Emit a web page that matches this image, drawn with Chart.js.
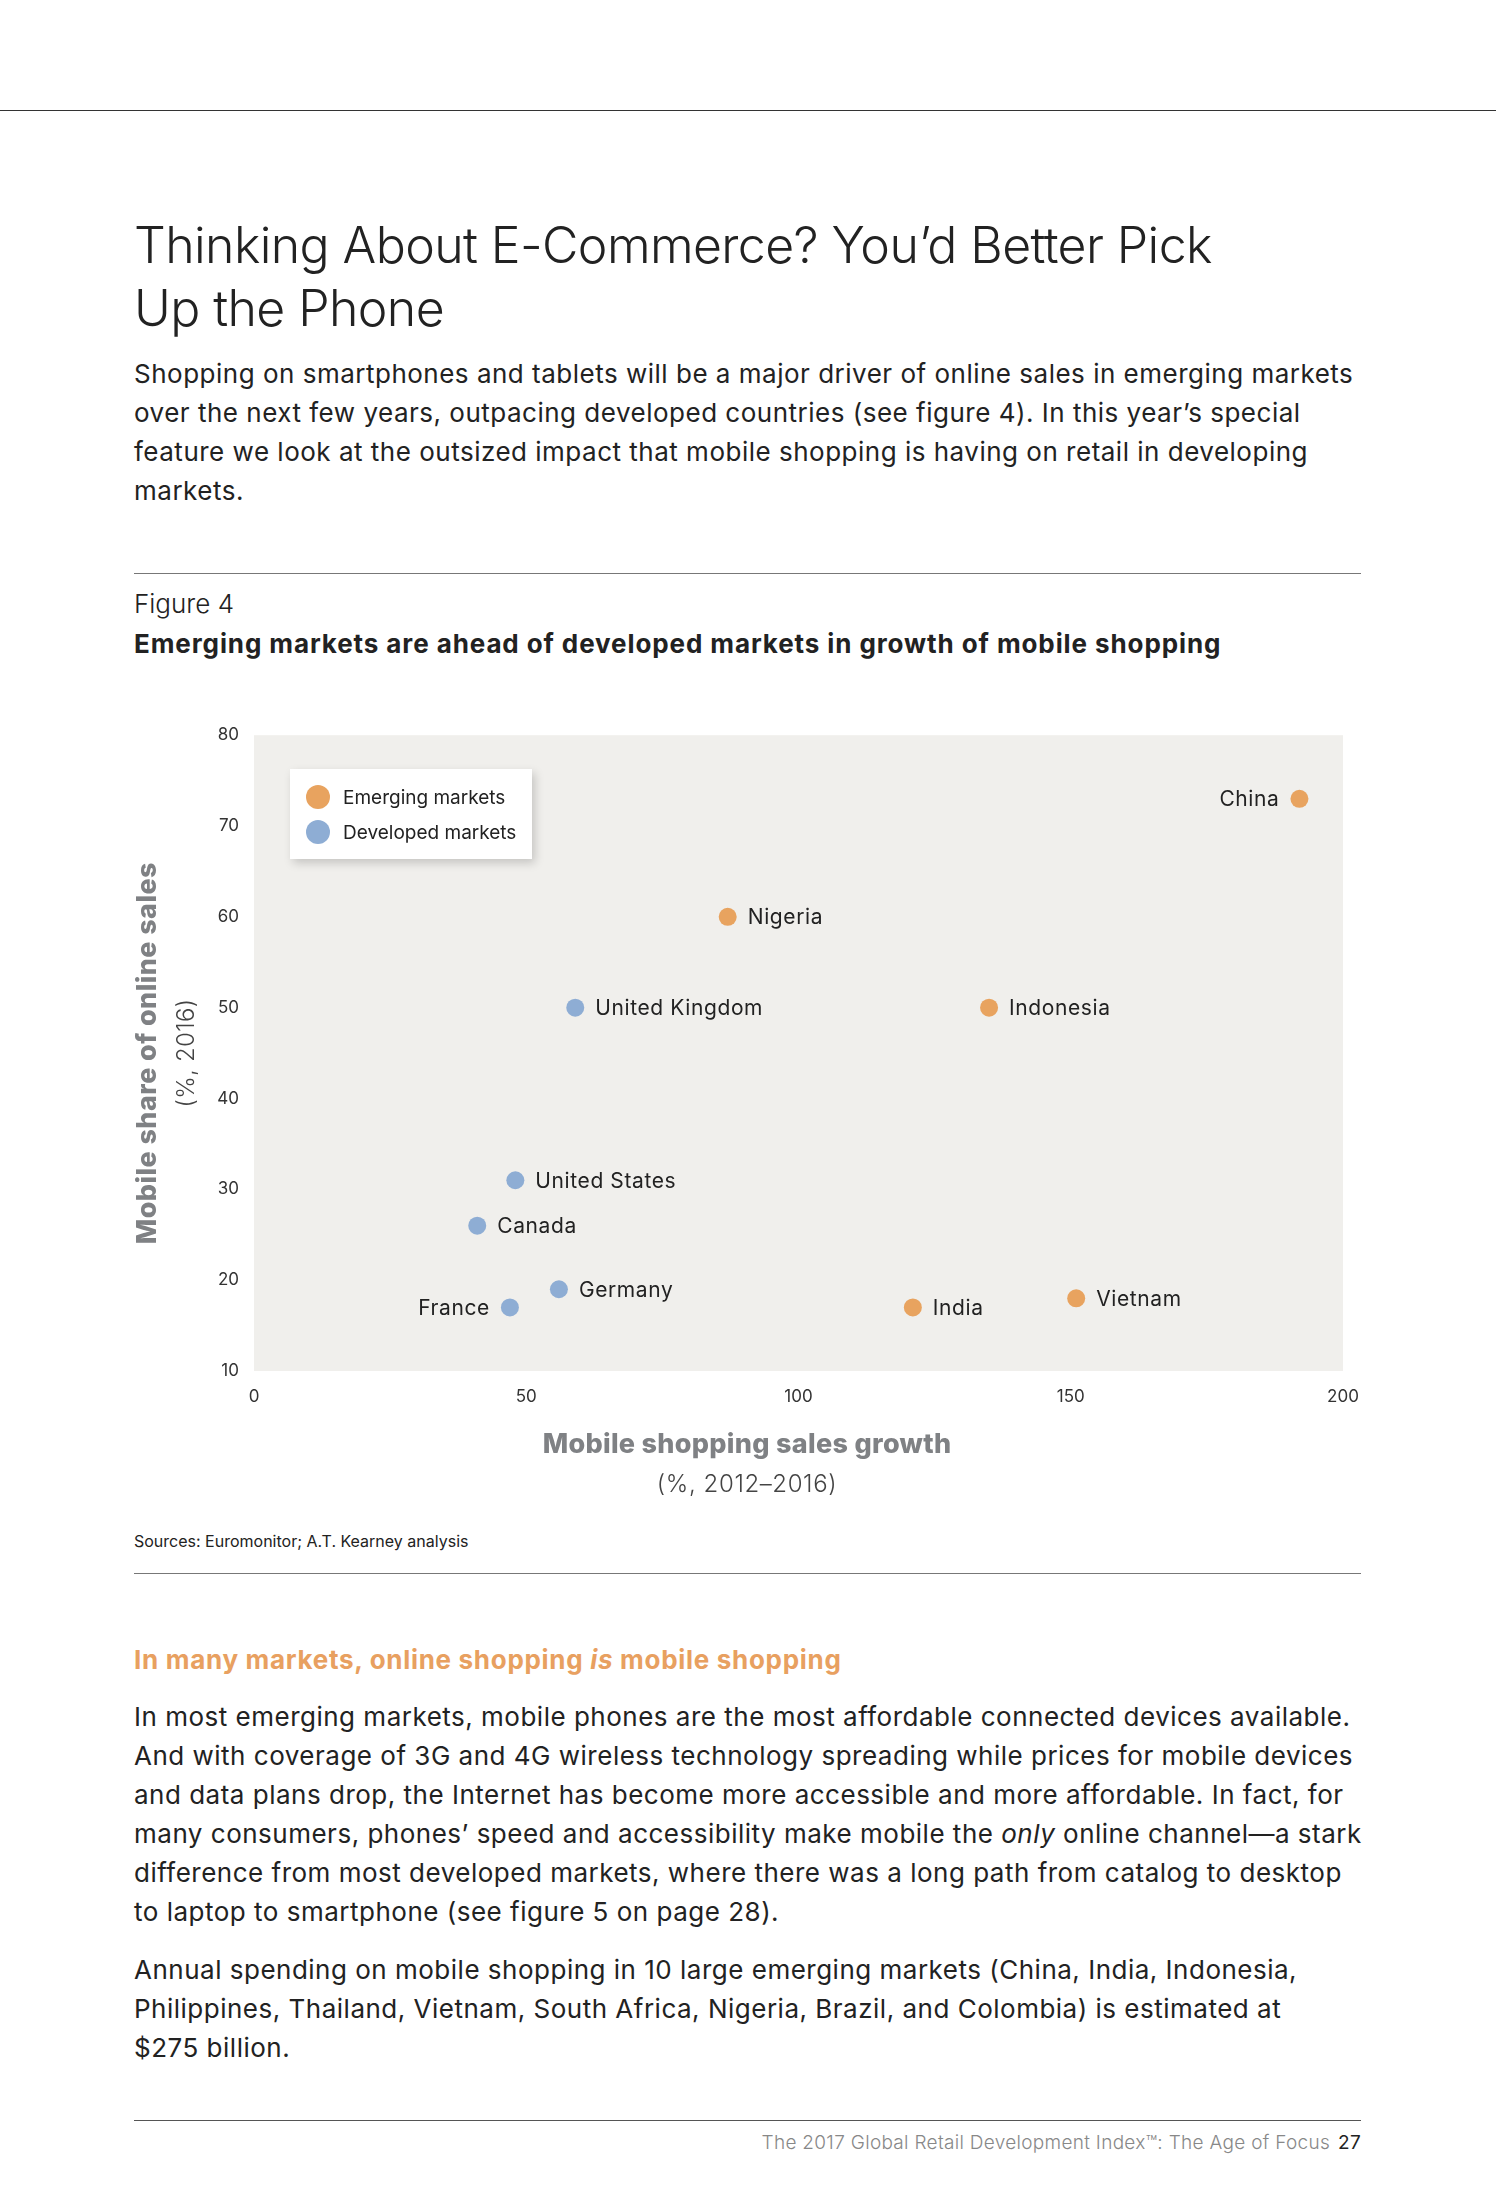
<!DOCTYPE html>
<html>
<head>
<meta charset="utf-8">
<title>Figure 4 - Mobile shopping</title>
<script src="https://cdn.jsdelivr.net/npm/chart.js@4/dist/chart.umd.min.js"></script>
<style>
  html, body { margin: 0; padding: 0; background: #fff; }
  body {
    width: 1496px; height: 2205px; position: relative; overflow: hidden;
    font-family: Inter, "Noto Sans", sans-serif; color: #222;
  }
  .abs { position: absolute; white-space: nowrap; }
  .rule { position: absolute; height: 0; }
  .title { left: 134px; top: 214px; font-size: 50px; line-height: 63px; font-weight: 300; color: #222; letter-spacing: -0.6px; }
  .para { left: 134px; font-size: 26px; line-height: 39px; font-weight: 400; color: #222; letter-spacing: 0.5px; }
  .fig { left: 134px; top: 584px; font-size: 26px; line-height: 39px; font-weight: 300; }
  .sub { left: 134px; top: 624px; font-size: 26px; line-height: 39px; font-weight: 700; letter-spacing: 0.9px; }
  .orange { left: 134px; top: 1640px; font-size: 26px; line-height: 39px; font-weight: 700; color: #E8A060; letter-spacing: 0.7px; }
  .src { left: 134px; top: 1530px; font-size: 16px; line-height: 22px; color: #222; }
  .foot { right: 135px; top: 2130px; font-size: 19px; line-height: 26px; color: #888; font-weight: 300; letter-spacing: 0.3px; }
  .foot b { color: #222; font-weight: 400; margin-left: 8px; }
  #chartBox { position: absolute; left: 100px; top: 710px; width: 1296px; height: 800px; }
  #legend {
    position: absolute; left: 290px; top: 769px; width: 242px; height: 90px;
    background: #fff; box-shadow: 3px 4px 9px rgba(0,0,0,0.18);
  }
  #legend .item { position: absolute; left: 16px; height: 24px; display: flex; align-items: center; font-size: 19px; color: #222; }
  #legend .dot { width: 24px; height: 24px; border-radius: 50%; margin-right: 13px; }
</style>
</head>
<body>

<div class="rule" style="left:0; top:110px; width:1496px; border-top:1.5px solid #333;"></div>

<div class="abs title">Thinking About E-Commerce? You’d Better Pick<br>Up the Phone</div>

<div class="abs para" style="top:354px;">Shopping on smartphones and tablets will be a major driver of online sales in emerging markets<br>over the next few years, outpacing developed countries (see figure 4). In this year’s special<br>feature we look at the outsized impact that mobile shopping is having on retail in developing<br>markets.</div>

<div class="rule" style="left:134px; top:573px; width:1227px; border-top:1.5px solid #777;"></div>
<div class="abs fig">Figure 4</div>
<div class="abs sub">Emerging markets are ahead of developed markets in growth of mobile shopping</div>

<div id="chartBox"><canvas id="scatterChart"></canvas></div>
<div id="legend"></div>

<div class="abs src">Sources: Euromonitor; A.T. Kearney analysis</div>
<div class="rule" style="left:134px; top:1573px; width:1227px; border-top:1.5px solid #777;"></div>

<div class="abs orange">In many markets, online shopping <i>is</i> mobile shopping</div>

<div class="abs para" style="top:1697px;">In most emerging markets, mobile phones are the most affordable connected devices available.<br>And with coverage of 3G and 4G wireless technology spreading while prices for mobile devices<br>and data plans drop, the Internet has become more accessible and more affordable. In fact, for<br>many consumers, phones’ speed and accessibility make mobile the <i>only</i> online channel—a stark<br>difference from most developed markets, where there was a long path from catalog to desktop<br>to laptop to smartphone (see figure 5 on page 28).</div>

<div class="abs para" style="top:1950px;">Annual spending on mobile shopping in 10 large emerging markets (China, India, Indonesia,<br>Philippines, Thailand, Vietnam, South Africa, Nigeria, Brazil, and Colombia) is estimated at<br>$275 billion.</div>

<div class="rule" style="left:134px; top:2120px; width:1227px; border-top:1.5px solid #555;"></div>
<div class="abs foot">The 2017 Global Retail Development Index™: The Age of Focus<b>27</b></div>

<script>
// =====================
// Data
// =====================
const emergingNames = ['China', 'Nigeria', 'Indonesia', 'India', 'Vietnam'];
const emergingGrowth = [192, 87, 135, 121, 151];
const emergingShare = [73, 60, 50, 17, 18];

const developedNames = ['United Kingdom', 'United States', 'Canada', 'Germany', 'France'];
const developedGrowth = [59, 48, 41, 56, 47];
const developedShare = [50, 31, 26, 19, 17];

const xTicks = [0, 50, 100, 150, 200];
const yTicks = [10, 20, 30, 40, 50, 60, 70, 80];

const seriesLabels = ['Emerging markets', 'Developed markets'];
const xTitle = ['Mobile shopping sales growth', '(%, 2012–2016)'];
const yTitle = ['Mobile share of online sales', '(%, 2016)'];

// =====================
// Styling
// =====================
const ORANGE = '#E8A35F';
const BLUE = '#8EADD4';
const PLOT_BG = '#F0EFEC';
const FONT = 'Inter, "Noto Sans", sans-serif';
const leftLabels = ['China', 'France']; // labels that sit to the left of their dot

function toPoints(xs, ys) {
  return xs.map((x, i) => ({ x: x, y: ys[i] }));
}

// plot background
const plotBg = {
  id: 'plotBg',
  beforeDraw(chart) {
    const { ctx, chartArea: a } = chart;
    ctx.save();
    ctx.fillStyle = PLOT_BG;
    ctx.fillRect(a.left, a.top, a.right - a.left, a.bottom - a.top);
    ctx.restore();
  }
};

// country names next to the dots
const pointNames = {
  id: 'pointNames',
  afterDatasetsDraw(chart) {
    const ctx = chart.ctx;
    ctx.save();
    ctx.font = '400 21px ' + FONT;
    ctx.letterSpacing = '0.6px';
    ctx.fillStyle = '#222';
    ctx.textBaseline = 'middle';
    chart.data.datasets.forEach((ds, di) => {
      chart.getDatasetMeta(di).data.forEach((pt, i) => {
        const name = ds.names[i];
        if (leftLabels.includes(name)) {
          ctx.textAlign = 'right';
          ctx.fillText(name, pt.x - 20, pt.y + 1);
        } else {
          ctx.textAlign = 'left';
          ctx.fillText(name, pt.x + 20, pt.y + 1);
        }
      });
    });
    ctx.restore();
  }
};

// two-line axis titles (bold + regular)
const axisTitles = {
  id: 'axisTitles',
  afterDraw(chart) {
    const { ctx, chartArea: a } = chart;
    ctx.save();
    ctx.textAlign = 'center';
    ctx.textBaseline = 'middle';
    // x title, centred on the whole figure
    const cx = 647;
    ctx.fillStyle = '#7F8184';
    ctx.font = '800 27px ' + FONT;
    ctx.letterSpacing = '0.3px';
    ctx.fillText(xTitle[0], cx, a.bottom + 74);
    ctx.fillStyle = '#444';
    ctx.font = '300 24px ' + FONT;
    ctx.letterSpacing = '0.6px';
    ctx.fillText(xTitle[1], cx, a.bottom + 114);
    // y title
    const cy = (a.top + a.bottom) / 2;
    ctx.translate(48, cy);
    ctx.rotate(-Math.PI / 2);
    ctx.fillStyle = '#7F8184';
    ctx.font = '800 27px ' + FONT;
    ctx.letterSpacing = '0.4px';
    ctx.fillText(yTitle[0], 0, 0);
    ctx.fillStyle = '#444';
    ctx.font = '300 24px ' + FONT;
    ctx.letterSpacing = '0.3px';
    ctx.fillText(yTitle[1], 0, 39);
    ctx.restore();
  }
};

const scatterChart = new Chart(document.getElementById('scatterChart'), {
  type: 'scatter',
  data: {
    datasets: [
      {
        label: seriesLabels[0],
        names: emergingNames,
        data: toPoints(emergingGrowth, emergingShare),
        backgroundColor: ORANGE,
        borderWidth: 0,
        pointRadius: 9,
        pointHoverRadius: 9
      },
      {
        label: seriesLabels[1],
        names: developedNames,
        data: toPoints(developedGrowth, developedShare),
        backgroundColor: BLUE,
        borderWidth: 0,
        pointRadius: 9,
        pointHoverRadius: 9
      }
    ]
  },
  options: {
    responsive: true,
    maintainAspectRatio: false,
    animation: false,
    layout: { padding: { top: 25, right: 53, left: 0, bottom: 0 } },
    plugins: {
      legend: { display: false },
      tooltip: { enabled: false }
    },
    scales: {
      x: {
        type: 'linear',
        min: 0,
        max: 200,
        afterBuildTicks: s => { s.ticks = xTicks.map(v => ({ value: v })); },
        afterFit: s => { s.height = 139; },
        grid: { display: false, drawTicks: false },
        border: { display: false },
        ticks: { padding: 16, color: '#333', font: { family: FONT, size: 17 } }
      },
      y: {
        type: 'linear',
        min: 10,
        max: 80,
        afterBuildTicks: s => { s.ticks = yTicks.map(v => ({ value: v })); },
        afterFit: s => { s.width = 154; },
        grid: { display: false, drawTicks: false },
        border: { display: false },
        ticks: { padding: 15, color: '#333', font: { family: FONT, size: 17 } }
      }
    }
  },
  plugins: [plotBg, pointNames, axisTitles]
});

// =====================
// HTML legend (white box with shadow inside the plot)
// =====================
const legendBox = document.getElementById('legend');
scatterChart.data.datasets.forEach((ds, i) => {
  const item = document.createElement('div');
  item.className = 'item';
  item.style.top = (16 + i * 35) + 'px';
  const dot = document.createElement('span');
  dot.className = 'dot';
  dot.style.background = ds.backgroundColor;
  item.appendChild(dot);
  item.appendChild(document.createTextNode(ds.label));
  legendBox.appendChild(item);
});
</script>
</body>
</html>
